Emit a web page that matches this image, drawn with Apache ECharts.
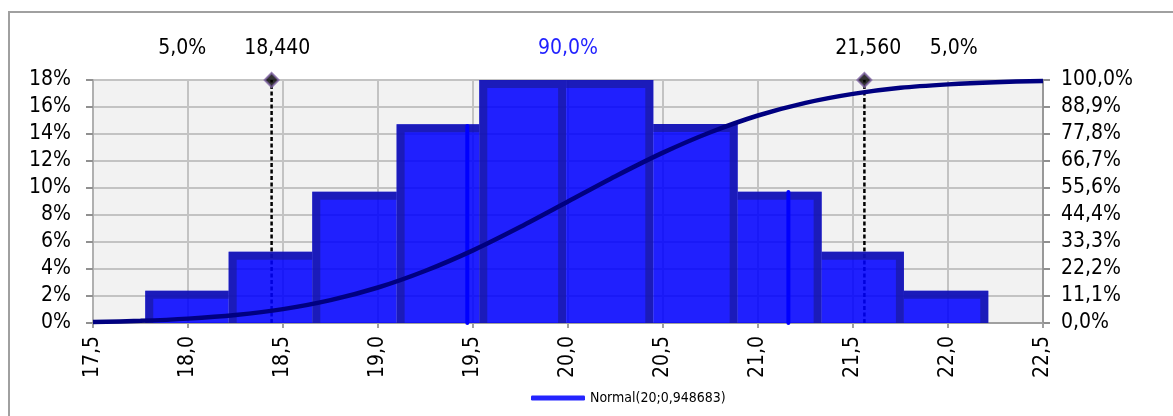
<!DOCTYPE html>
<html><head><meta charset="utf-8">
<script src="https://cdn.jsdelivr.net/npm/echarts@6/dist/echarts.min.js"></script>
<style>html,body{margin:0;padding:0;background:#fff}#c{width:1173px;height:416px}</style>
</head><body><div id="c"></div>
<script>
// ---- data ----
const binEdges = [17.775, 18.214, 18.654, 19.098, 19.533, 19.99, 20.449, 20.893, 21.335, 21.768, 22.212];
const binProb  = [0.0239, 0.0528, 0.0973, 0.1472, 0.18, 0.18, 0.1475, 0.0973, 0.0528, 0.0239];
const cdfX = [17.5, 17.75, 18, 18.25, 18.5, 18.75, 19, 19.25, 19.5, 19.75, 20, 20.25, 20.5, 20.75, 21, 21.25, 21.5, 21.75, 22, 22.25, 22.5];
const cdfY = [0.004, 0.009, 0.018, 0.033, 0.057, 0.094, 0.146, 0.215, 0.299, 0.396, 0.5, 0.604, 0.701, 0.785, 0.854, 0.906, 0.943, 0.968, 0.982, 0.991, 0.996];
const meanX = 20;
const markerX = [18.44, 21.56];
const markerLevel = 0.18;
const blueLineX = [19.47, 21.16];
const blueLineTop = [0.146, 0.097];
const xMin = 17.5, xMax = 22.5, xStep = 0.5;
const leftMax = 0.18, leftStep = 0.02;
const rightTickLabels = ['0,0%','11,1%','22,2%','33,3%','44,4%','55,6%','66,7%','77,8%','88,9%','100,0%'];
const topLabelX = [17.97, 18.47, 20.0, 21.58, 22.03];
const topLabelText = ['5,0%', '18,440', '90,0%', '21,560', '5,0%'];
const seriesName = 'Normal(20;0,948683)';

const FONT = "'DejaVu Sans Condensed', 'DejaVu Sans', sans-serif";
const chart = echarts.init(document.getElementById('c'), null, {renderer: 'canvas'});

function renderBin(params, api) {
  const lo = api.value(0), hi = api.value(1), p = api.value(2);
  const a = api.coord([lo, p]), b = api.coord([hi, 0]);
  const x0 = a[0], y0 = a[1], x1 = b[0], y1 = b[1];
  const bw = 8, h = bw / 2;
  const mid = (lo + hi) / 2;
  const leftBand = mid < meanX;
  const rightBand = mid > meanX || Math.abs(hi - meanX) < 0.05;
  const pts = [];
  if (leftBand) pts.push([x0 + h, y1]);
  pts.push([leftBand ? x0 + h : x0, y0 + h]);
  pts.push([rightBand ? x1 - h : x1, y0 + h]);
  if (rightBand) pts.push([x1 - h, y1]);
  return {type: 'group', children: [
    {type: 'rect', shape: {x: x0, y: y0, width: x1 - x0, height: y1 - y0}, style: {fill: 'rgba(0,0,255,0.87)'}},
    {type: 'polyline', shape: {points: pts}, style: {stroke: 'rgba(25,25,140,0.6)', lineWidth: bw, fill: null, lineJoin: 'miter'}}
  ]};
}

const series = [];
markerX.forEach(function (x) {
  series.push({type: 'line', yAxisIndex: 0, z: 1, symbol: 'none', silent: true,
    data: [[x, 0], [x, markerLevel]],
    lineStyle: {color: '#000', width: 2.5, type: [4, 2.5]}});
});
series.push({type: 'custom', yAxisIndex: 0, z: 2, renderItem: renderBin, clip: true,
  encode: {x: [0, 1], y: 2},
  data: binProb.map(function (p, i) { return [binEdges[i], binEdges[i + 1], p]; })});
blueLineX.forEach(function (x, i) {
  series.push({type: 'line', yAxisIndex: 0, z: 3, symbol: 'none', silent: true,
    data: [[x, 0], [x, blueLineTop[i]]],
    lineStyle: {color: '#0000ff', width: 4, cap: 'round'}});
});
series.push({name: seriesName, type: 'line', yAxisIndex: 1, z: 4, symbol: 'none', smooth: 0.3,
  data: cdfX.map(function (x, i) { return [x, cdfY[i]]; }),
  lineStyle: {color: '#000080', width: 4.5}, itemStyle: {color: '#000080'}});
series.push({type: 'scatter', yAxisIndex: 0, z: 5, symbol: 'diamond', symbolSize: 14, clip: false,
  data: markerX.map(function (x) { return [x, markerLevel]; }),
  itemStyle: {color: '#000', borderColor: '#8064a2', borderWidth: 2}});

chart.setOption({
  animation: false,
  backgroundColor: '#fff',
  textStyle: {fontFamily: FONT},
  grid: {left: 93, right: 130, top: 80, bottom: 93, containLabel: false, outerBoundsMode: 'none',
    show: true, backgroundColor: '#f2f2f2', borderWidth: 0},
  legend: {left: 526, top: 386, itemWidth: 54, itemHeight: 5, icon: 'roundRect',
    data: [{name: seriesName, icon: 'roundRect', itemStyle: {color: '#2424ff'}}],
    textStyle: {fontFamily: FONT, fontSize: 14, color: '#000'}},
  xAxis: {type: 'value', min: xMin, max: xMax, interval: xStep,
    axisLine: {show: true, onZero: false, lineStyle: {color: '#a0a0a0', width: 2}},
    axisTick: {show: true, length: 5, lineStyle: {color: '#a0a0a0', width: 2}},
    splitLine: {show: true, lineStyle: {color: '#c3c3c3', width: 2}},
    axisLabel: {rotate: 90, margin: 13, fontSize: 21, color: '#000', fontFamily: FONT,
      formatter: function (v) { return v.toFixed(1).replace('.', ','); }}},
  yAxis: [
    {type: 'value', min: 0, max: leftMax, interval: leftStep, position: 'left',
      axisLine: {show: true, lineStyle: {color: '#b0b0b0', width: 2}},
      axisTick: {show: true, length: 7, lineStyle: {color: '#909090', width: 2}},
      splitLine: {show: true, lineStyle: {color: '#c3c3c3', width: 2}},
      axisLabel: {margin: 22, fontSize: 21, color: '#000', fontFamily: FONT,
        formatter: function (v) { return Math.round(v * 100) + '%'; }}},
    {type: 'value', min: 0, max: 1, position: 'right',
      axisLine: {show: true, lineStyle: {color: '#999', width: 2}},
      axisTick: {show: true, length: 7, lineStyle: {color: '#909090', width: 2},
        customValues: rightTickLabels.map(function (_, i) { return i / (rightTickLabels.length - 1); })},
      splitLine: {show: false},
      axisLabel: {margin: 18, fontSize: 21, color: '#000', fontFamily: FONT,
        customValues: rightTickLabels.map(function (_, i) { return i / (rightTickLabels.length - 1); }),
        formatter: function (v) { return rightTickLabels[Math.round(v * (rightTickLabels.length - 1))]; }}}
  ],
  series: series
});

const graphics = [{type: 'rect', silent: true, z: 100,
  shape: {x: 9, y: 12, width: 1300, height: 600},
  style: {fill: null, stroke: '#a0a0a0', lineWidth: 2}}];
topLabelX.forEach(function (x, i) {
  const px = chart.convertToPixel({xAxisIndex: 0}, x);
  graphics.push({type: 'text', silent: true, z: 100, x: px, y: 49,
    style: {text: topLabelText[i], textAlign: 'center', textVerticalAlign: 'middle',
      font: '21px ' + FONT, fill: i === 2 ? '#1f1fff' : '#000'}});
});
chart.setOption({graphic: graphics});
</script>
</body></html>
